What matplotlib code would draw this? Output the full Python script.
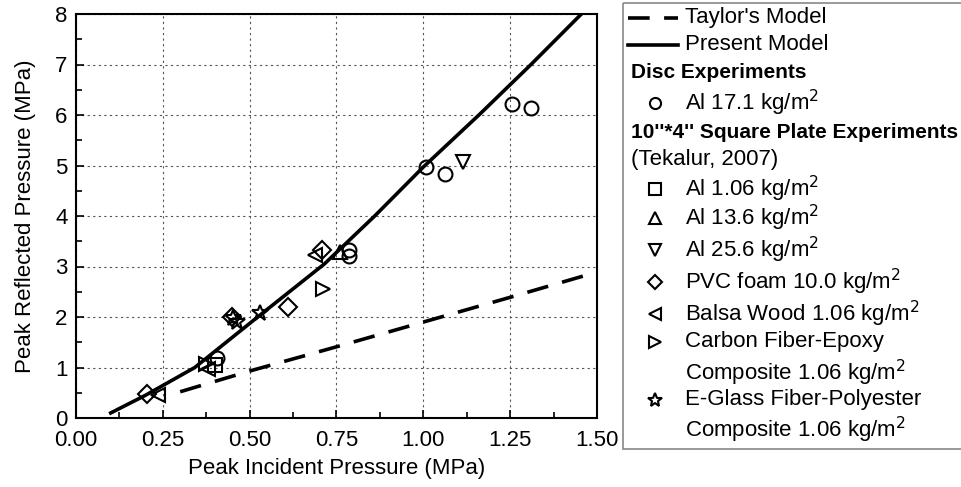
import matplotlib.pyplot as plt
from matplotlib.lines import Line2D
from matplotlib.patches import Rectangle

plt.rcParams['font.family'] = ['Liberation Sans', 'DejaVu Sans']
plt.rcParams['font.size'] = 16

# model curves
taylor_x = [0.30, 0.50, 0.75, 1.00, 1.25, 1.50]
taylor_y = [0.52, 0.93, 1.41, 1.90, 2.39, 2.89]
present_x = [0.10, 0.20, 0.342, 0.523, 0.715, 0.86, 1.00, 1.16, 1.31, 1.455]
present_y = [0.10, 0.45, 1.00, 2.00, 3.05, 4.00, 4.97, 6.00, 7.00, 8.00]

# disc experiments
disc_x = [0.405, 0.787, 0.787, 1.009, 1.063, 1.256, 1.310]
disc_y = [1.19, 3.33, 3.21, 4.97, 4.83, 6.22, 6.14]

# square plate experiments (Tekalur, 2007)
al106_x = [0.40]
al106_y = [1.05]
al136_x = [0.759]
al136_y = [3.29]
al256_x = [1.113]
al256_y = [5.07]
pvc_x = [0.204, 0.45, 0.61, 0.707]
pvc_y = [0.48, 2.00, 2.20, 3.33]
balsa_x = [0.235, 0.38, 0.687]
balsa_y = [0.46, 0.97, 3.23]
carbon_x = [0.375, 0.71]
carbon_y = [1.07, 2.55]
eglass_x = [0.452, 0.463, 0.53]
eglass_y = [1.98, 1.90, 2.08]

fig = plt.figure(figsize=(9.62, 4.87), dpi=100)
W, H = 962, 487
ax = fig.add_axes([76 / W, 1 - 418 / H, (597 - 76) / W, (418 - 14) / H])

ax.plot(taylor_x, taylor_y, color='black', lw=2.6, dashes=(6, 4), solid_capstyle='butt')
ax.plot(present_x, present_y, color='black', lw=2.6)

mk = dict(ls='none', mfc='none', mec='black', mew=1.5, ms=10)
ax.plot(disc_x, disc_y, marker='o', **mk)
ax.plot(al106_x, al106_y, marker='s', **mk)
ax.plot(al136_x, al136_y, marker='^', **mk)
ax.plot(al256_x, al256_y, marker='v', **mk)
ax.plot(pvc_x, pvc_y, marker='D', **{**mk, 'ms': 9})
ax.plot(balsa_x, balsa_y, marker='<', **mk)
ax.plot(carbon_x, carbon_y, marker='>', **mk)
ax.plot(eglass_x, eglass_y, marker='*', **{**mk, 'ms': 12})

ax.set_xlim(0, 1.5)
ax.set_ylim(0, 8)
ax.set_xticks([0, 0.25, 0.5, 0.75, 1.0, 1.25, 1.5])
ax.set_xticklabels(['0.00', '0.25', '0.50', '0.75', '1.00', '1.25', '1.50'])
ax.set_xticks([0.125, 0.375, 0.625, 0.875, 1.125, 1.375], minor=True)
ax.set_yticks(range(9))
ax.set_yticks([0.5, 1.5, 2.5, 3.5, 4.5, 5.5, 6.5, 7.5], minor=True)
ax.tick_params(which='both', direction='in', top=False, right=False, width=1.2)
ax.tick_params(which='major', length=6)
ax.tick_params(axis='x', which='major', pad=9)
ax.tick_params(axis='y', which='major', pad=6)
ax.tick_params(which='minor', length=4)
ax.grid(True, which='major', ls=(0, (2, 3)), color='#555555', lw=0.8)
for s in ax.spines.values():
    s.set_linewidth(1.5)
ax.set_xlabel('Peak Incident Pressure (MPa)', labelpad=5)
ax.set_ylabel('Peak Reflected Pressure (MPa)', labelpad=14)

# legend panel
lg = fig.add_axes([0, 0, 1, 1], facecolor='none')
lg.set_xlim(0, W)
lg.set_ylim(H, 0)
lg.axis('off')
lg.add_patch(Rectangle((623, 3), 400, 446, fill=False, ec='#888888', lw=1.2))

lg.add_line(Line2D([628, 678], [18, 18], color='black', lw=2.6, dashes=(6, 4)))
lg.add_line(Line2D([628, 678], [45, 45], color='black', lw=2.6))

fs = 16
lg.text(685, 18, "Taylor's Model", va='center', fontsize=fs)
lg.text(685, 45, 'Present Model', va='center', fontsize=fs)
lg.text(631, 73, 'Disc Experiments', va='center', fontsize=15, fontweight='bold')
lg.text(631, 132, '10\'\'*4\'\' Square Plate Experiments', va='center', fontsize=15,
        fontweight='bold')
lg.text(631, 159, '(Tekalur, 2007)', va='center', fontsize=fs)

entries = [
    ('o', 103, 'Al 17.1 kg/m$^2$', 8),
    ('s', 189, 'Al 1.06 kg/m$^2$', 8),
    ('^', 218, 'Al 13.6 kg/m$^2$', 8),
    ('v', 250, 'Al 25.6 kg/m$^2$', 8),
    ('D', 282, 'PVC foam 10.0 kg/m$^2$', 7),
    ('<', 314, 'Balsa Wood 1.06 kg/m$^2$', 8),
    ('>', 342, 'Carbon Fiber-Epoxy', 8),
    ('*', 400, 'E-Glass Fiber-Polyester', 10),
]
for m, y, label, size in entries:
    lg.plot([655], [y], marker=m, ls='none', mfc='none', mec='black', mew=1.5, ms=size)
    lg.text(685, y, label, va='center', fontsize=fs)
lg.text(685, 373, 'Composite 1.06 kg/m$^2$', va='center', fontsize=fs)
lg.text(685, 430, 'Composite 1.06 kg/m$^2$', va='center', fontsize=fs)

fig.savefig('out.png', dpi=100)
